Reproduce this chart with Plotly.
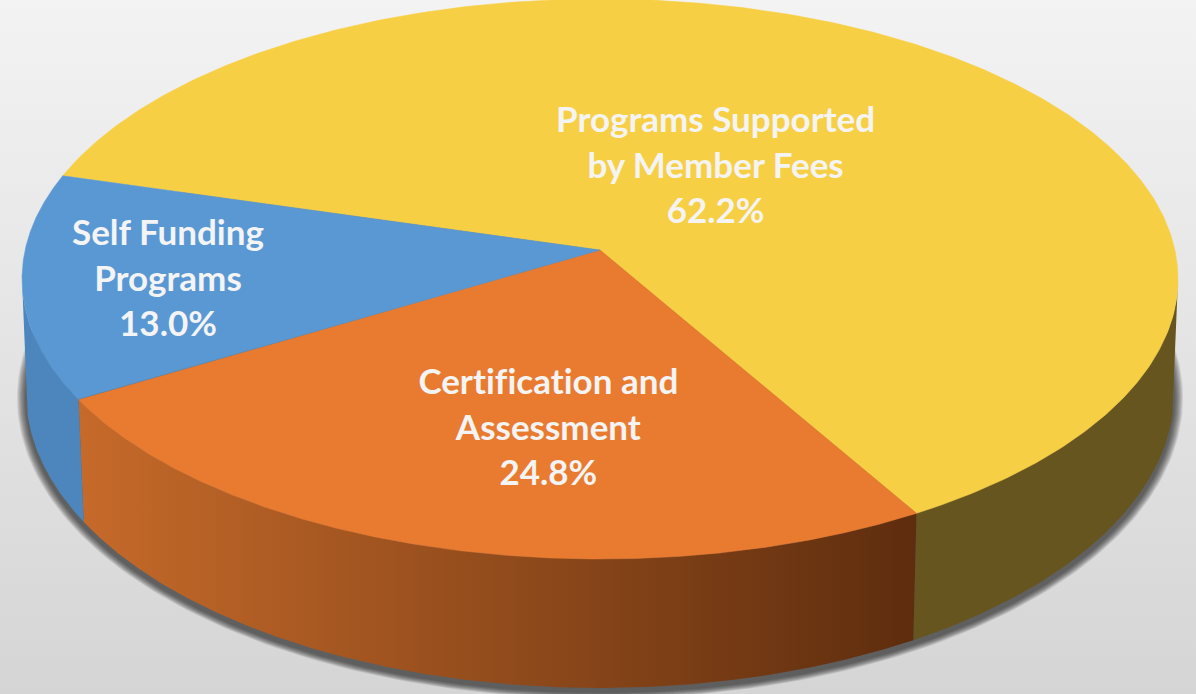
import numpy as np
import plotly.graph_objects as go

categories = ["Programs Supported<br>by Member Fees", "Certification and<br>Assessment", "Self Funding<br>Programs"]
shares = [62.2, 24.8, 13.0]
top_colors = ["#F7CF45", "#E97B31", "#5A98D3"]
rim_colors = [("#67551F", "#67551F"), ("#C66A2A", "#5E2D0E"), ("#4C86BC", "#4A80B3")]
label_xy = [(715, 163), (548, 425), (168, 276)]

W, H = 1196, 694
FIRST_ANGLE = 286.0
# top disc: perspective projection of a circle
CX, CY, A, B, K = 600.0, 250.0, 277.0, 574.9, -0.1036
# bottom disc outline
BX, BY, BRX, BRY, BSCALE = 600.0, 393.0, 574.0, 295.0, 0.99


def top_xy(phi):
    r = np.radians(phi)
    u, v = np.sin(r), -np.cos(r)
    d = 1 + K * v
    return CX + B * u / d, CY + A * v / d


def bottom_xy(phi):
    x, _ = top_xy(phi)
    xb = BX + BSCALE * (x - CX)
    return xb, BY + BRY * np.sqrt(np.clip(1 - ((xb - BX) / BRX) ** 2, 0, 1))


fig = go.Figure()

# background
fig.add_trace(go.Scatter(
    x=[0, W, W, 0, 0], y=[0, 0, H, H, 0], mode="lines", fill="toself",
    line=dict(width=0), hoverinfo="skip", showlegend=False,
    fillgradient=dict(type="vertical", colorscale=[[0, "#D5D5D5"], [1, "#F3F3F3"]]),
))

# soft shadow under the base
t = np.linspace(0, 2 * np.pi, 361)
for grow in np.arange(8, -1, -1.0):
    fig.add_trace(go.Scatter(
        x=BX + (BRX + 1.0 + grow) * np.cos(t),
        y=BY + 5 + (BRY + grow * 0.7) * np.sin(t),
        mode="lines", fill="toself", line=dict(width=0),
        fillcolor="rgba(30,30,30,0.105)", hoverinfo="skip", showlegend=False,
    ))

# slice boundaries
edges = FIRST_ANGLE + np.concatenate([[0], np.cumsum(shares)]) / sum(shares) * 360.0

# rims
for i in range(len(shares)):
    phi = np.linspace(edges[i], edges[i + 1], 500)
    phi = phi[-np.cos(np.radians(phi)) >= -K]
    if len(phi) < 2:
        continue
    xt, yt = top_xy(phi)
    xb, yb = bottom_xy(phi)
    fig.add_trace(go.Scatter(
        x=np.concatenate([xt, xb[::-1], xt[:1]]),
        y=np.concatenate([yt, yb[::-1], yt[:1]]),
        mode="lines", fill="toself", line=dict(width=0), hoverinfo="skip", showlegend=False,
        fillgradient=dict(type="horizontal", colorscale=[[0, rim_colors[i][0]], [1, rim_colors[i][1]]]) if i == 1 else None,
        fillcolor=None if i == 1 else rim_colors[i][0],
    ))

# top faces
for i in range(len(shares)):
    phi = np.linspace(edges[i], edges[i + 1], 400)
    xt, yt = top_xy(phi)
    fig.add_trace(go.Scatter(
        x=np.concatenate([[CX], xt, [CX]]),
        y=np.concatenate([[CY], yt, [CY]]),
        mode="lines", fill="toself", line=dict(width=0.5, color=top_colors[i]),
        fillcolor=top_colors[i], hoverinfo="skip", showlegend=False,
    ))

for name, share, (lx, ly) in zip(categories, shares, label_xy):
    fig.add_annotation(
        x=lx, y=ly, xref="x", yref="y", text=f"{name}<br>{share:.1f}%", showarrow=False,
        font=dict(family="Lato", size=35, color="#F4F4F4", weight="bold"), align="center",
    )

fig.update_layout(
    width=W, height=H, margin=dict(l=0, r=0, t=0, b=0),
    paper_bgcolor="#E6E6E6", plot_bgcolor="#E6E6E6", showlegend=False,
    xaxis=dict(range=[0, W], visible=False, fixedrange=True),
    yaxis=dict(range=[H, 0], visible=False, fixedrange=True),
)
fig.write_html("out.html", config={"displayModeBar": False},
               post_script="document.body.style.margin='0';"
                           "var s=document.createElement('style');"
                           "s.textContent='text{font-variant-ligatures:none !important}';"
                           "document.head.appendChild(s);")
